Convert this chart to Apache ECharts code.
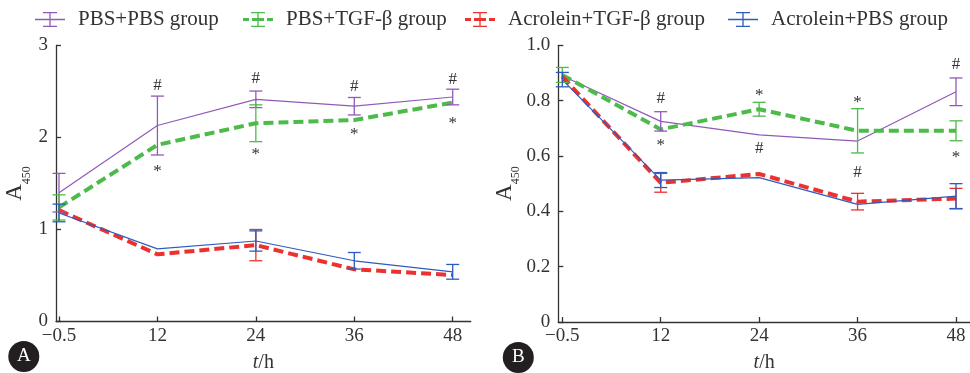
<!DOCTYPE html>
<html>
<head>
<meta charset="utf-8">
<script src="https://cdn.jsdelivr.net/npm/echarts@6/dist/echarts.min.js"></script>
<style>html,body{margin:0;padding:0;background:#fff;}#c{width:970px;height:373px;}</style>
</head>
<body>
<div id="c"></div>
<script>
// ---------- data ----------
const xLabels = ['\u22120.5', '12', '24', '36', '48'];
const seriesNames = ['PBS+PBS group', 'PBS+TGF-\u03b2 group', 'Acrolein+TGF-\u03b2 group', 'Acrolein+PBS group'];

// Panel A (A450); error 0 = no visible error bar
const aPbsPbs     = [1.40, 2.13, 2.415, 2.34, 2.44];
const aPbsPbsErr  = [0.21, 0.32, 0.09, 0.095, 0.085];
const aPbsTgf     = [1.24, 1.92, 2.155, 2.19, 2.38];
const aPbsTgfErr  = [0.137, 0, 0.20, 0, 0];
const aAcrTgf     = [1.21, 0.73, 0.83, 0.567, 0.505];
const aAcrTgfErr  = [0, 0, 0.17, 0, 0];
const aAcrPbs     = [1.18, 0.79, 0.875, 0.66, 0.54];
const aAcrPbsErr  = [0.096, 0, 0.11, 0.09, 0.08];
const aYTicks = [0, 1, 2, 3];

// Panel B (A450)
const bPbsPbs     = [0.89, 0.725, 0.676, 0.654, 0.832];
const bPbsPbsErr  = [0, 0.035, 0, 0, 0.05];
const bPbsTgf     = [0.893, 0.696, 0.769, 0.691, 0.691];
const bPbsTgfErr  = [0.027, 0, 0.025, 0.08, 0.036];
const bAcrTgf     = [0.887, 0.503, 0.535, 0.435, 0.446];
const bAcrTgfErr  = [0, 0.034, 0, 0.03, 0.037];
const bAcrPbs     = [0.876, 0.513, 0.522, 0.425, 0.455];
const bAcrPbsErr  = [0.026, 0.027, 0, 0, 0.045];
const bYTicks = ['0', '0.2', '0.4', '0.6', '0.8', '1.0'];

// significance marks (x index, value, symbol)
const aMarkX = [1, 1, 2, 2, 3, 3, 4, 4];
const aMarkY = [2.57, 1.665, 2.64, 1.846, 2.55, 2.063, 2.625, 2.183];
const aMarkT = ['#', '*', '#', '*', '#', '*', '#', '*'];
const bMarkX = [1, 1, 2, 2, 3, 3, 4, 4];
const bMarkY = [0.806, 0.649, 0.829, 0.628, 0.805, 0.54, 0.932, 0.607];
const bMarkT = ['#', '*', '*', '#', '*', '#', '#', '*'];

// ---------- styling ----------
const FONT = 'Liberation Serif';
const TXT = '#333';
const colors = ['#915ab9', '#4cbb4a', '#ec322f', '#2d5bbf'];
const dashed = [false, true, true, false];

const iconSolid = 'path://M0 6.85H30V8.15H0Z M14.35 0H15.65V15H14.35Z M8 0H22V1.3H8Z M8 13.7H22V15H8Z';
const iconDash = 'path://M0 6H6V9H0Z M9 6H21V9H9Z M24 6H30V9H24Z M14.35 0H15.65V15H14.35Z M8 0H22V1.3H8Z M8 13.7H22V15H8Z';
const legendLeft = [35, 243, 465, 728];

const panels = [
  {vals: [aPbsPbs, aPbsTgf, aAcrTgf, aAcrPbs], errs: [aPbsPbsErr, aPbsTgfErr, aAcrTgfErr, aAcrPbsErr],
   marks: [aMarkX, aMarkY, aMarkT], ymax: 3, yint: 1, labels: aYTicks.map(String), nameGap: 23.5,
   axisGrid: {left: 56, top: 45.5, width: 414.7, height: 276},
   dataGrid: {left: 59, top: 45.5, width: 393.7, height: 276}},
  {vals: [bPbsPbs, bPbsTgf, bAcrTgf, bAcrPbs], errs: [bPbsPbsErr, bPbsTgfErr, bAcrTgfErr, bAcrPbsErr],
   marks: [bMarkX, bMarkY, bMarkT], ymax: 1, yint: 0.2, labels: bYTicks, nameGap: 36,
   axisGrid: {left: 558.3, top: 45.3, width: 411.7, height: 276.7},
   dataGrid: {left: 562.3, top: 45.3, width: 393.7, height: 276.7}}
];

function errRender(color) {
  return function (params, api) {
    const x = api.value(0), y = api.value(1), e = api.value(2);
    if (!(e > 0)) return null;
    const t = api.coord([x, y + e]), b = api.coord([x, y - e]);
    const hw = 6.5;
    const st = {stroke: color, lineWidth: 1.3, fill: 'none'};
    return {type: 'group', children: [
      {type: 'line', shape: {x1: t[0], y1: t[1], x2: b[0], y2: b[1]}, style: st},
      {type: 'line', shape: {x1: t[0] - hw, y1: t[1], x2: t[0] + hw, y2: t[1]}, style: st},
      {type: 'line', shape: {x1: b[0] - hw, y1: b[1], x2: b[0] + hw, y2: b[1]}, style: st}
    ]};
  };
}
function markRender(params, api) {
  const p = api.coord([api.value(0), api.value(1)]);
  const s = api.value(2) === 0 ? '#' : '*';
  return {type: 'text', x: p[0], y: p[1] + (s === '*' ? 3 : 0),
    style: {text: s, fill: TXT, font: (s === '*' ? '17px ' : '17px ') + FONT, align: 'center', verticalAlign: 'middle'}};
}

const grid = [], xAxis = [], yAxis = [], series = [];
const axisLineStyle = {color: '#333', width: 1.3};
panels.forEach((P, pi) => {
  const gA = grid.length;
  grid.push(Object.assign({outerBoundsMode: 'none', containLabel: false}, P.axisGrid));
  grid.push(Object.assign({outerBoundsMode: 'none', containLabel: false}, P.dataGrid));
  const gD = gA + 1;
  xAxis.push({gridIndex: gA, type: 'value', min: 0, max: 1, axisLine: {show: true, onZero: false, lineStyle: axisLineStyle},
    axisTick: {show: false}, axisLabel: {show: false}, splitLine: {show: false},
    name: '{i|t}/h', nameLocation: 'middle', nameGap: 31,
    nameTextStyle: {fontFamily: FONT, fontSize: 20, color: TXT, rich: {i: {fontStyle: 'italic', fontFamily: FONT, fontSize: 20, color: TXT}}}});
  yAxis.push({gridIndex: gA, type: 'value', min: 0, max: P.ymax, interval: P.yint,
    axisLine: {show: true, lineStyle: axisLineStyle}, axisTick: {show: true, inside: true, length: 5, lineStyle: axisLineStyle},
    axisLabel: {margin: 8, fontFamily: FONT, fontSize: 19, color: TXT,
      formatter: (v) => P.labels[Math.round(v / P.yint)]},
    splitLine: {show: false},
    name: '{a|A}{s|450}', nameLocation: 'middle', nameRotate: 90, nameGap: P.nameGap,
    nameTextStyle: {rich: {
      a: {fontFamily: FONT, fontSize: 23, color: TXT, verticalAlign: 'bottom', padding: [0, 0, 6, 0]},
      s: {fontFamily: FONT, fontSize: 12, color: TXT, verticalAlign: 'bottom'}}}});
  xAxis.push({gridIndex: gD, type: 'value', min: 0, max: 4, interval: 1,
    axisLine: {show: false}, axisTick: {show: true, inside: true, length: 5, lineStyle: axisLineStyle},
    axisLabel: {margin: 5, fontFamily: FONT, fontSize: 19, color: TXT, formatter: (v) => xLabels[v]},
    splitLine: {show: false}});
  yAxis.push({gridIndex: gD, type: 'value', min: 0, max: P.ymax, show: false});
  const xi = xAxis.length - 1, yi = yAxis.length - 1;
  P.vals.forEach((vals, si) => {
    series.push({type: 'line', name: seriesNames[si], xAxisIndex: xi, yAxisIndex: yi,
      data: vals.map((v, i) => [i, v]), symbol: 'none', silent: true, z: 2 + si,
      color: colors[si],
      lineStyle: dashed[si] ? {color: colors[si], width: 4, type: [10, 5]} : {color: colors[si], width: 1.2}});
  });
  P.vals.forEach((vals, si) => {
    series.push({type: 'custom', name: 'err' + pi + si, xAxisIndex: xi, yAxisIndex: yi, clip: false, silent: true, z: 10 + si,
      data: vals.map((v, i) => [i, v, P.errs[si][i]]), renderItem: errRender(colors[si])});
  });
  const [mx, my, mt] = P.marks;
  series.push({type: 'custom', name: 'marks' + pi, xAxisIndex: xi, yAxisIndex: yi, clip: false, silent: true, z: 20,
    data: mx.map((x, i) => [x, my[i], mt[i] === '#' ? 0 : 1]), renderItem: markRender});
});

const legend = seriesNames.map((n, i) => ({
  left: legendLeft[i], top: 9, padding: 0, itemWidth: 30, itemHeight: 15, selectedMode: false,
  data: [{name: n, icon: dashed[i] ? iconDash : iconSolid, itemStyle: {color: colors[i], borderWidth: 0}}],
  textStyle: {fontFamily: FONT, fontSize: 21, color: TXT, padding: [0, 0, 0, 8]}
}));

const graphic = [
  {type: 'circle', shape: {cx: 23.8, cy: 356.5, r: 15.5}, style: {fill: '#231f20'}},
  {type: 'text', x: 23.8, y: 356.5, style: {text: 'A', fill: '#fff', font: '19px ' + FONT, align: 'center', verticalAlign: 'middle'}},
  {type: 'circle', shape: {cx: 518.3, cy: 357.5, r: 15.5}, style: {fill: '#231f20'}},
  {type: 'text', x: 518.3, y: 357.5, style: {text: 'B', fill: '#fff', font: '19px ' + FONT, align: 'center', verticalAlign: 'middle'}}
];

const chart = echarts.init(document.getElementById('c'), null, {renderer: 'canvas'});
chart.setOption({animation: false, backgroundColor: '#fff', grid, xAxis, yAxis, series, legend, graphic});
</script>
</body>
</html>
